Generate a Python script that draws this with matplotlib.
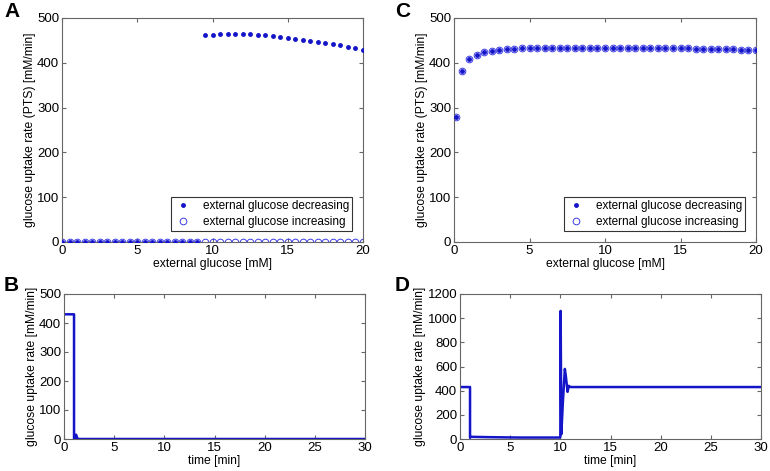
import numpy as np
import matplotlib
matplotlib.use('Agg')
import matplotlib.pyplot as plt

plt.rcParams['font.family'] = ['Liberation Sans', 'DejaVu Sans']

# panel A: bistable branch
glc_a = np.arange(0, 20.01, 0.5)
dec_a = [0]*19 + [461, 463, 464, 464.5, 464.5, 464, 463.5, 462.5, 461, 459.5, 458,
                  456, 454, 452, 449.5, 447, 444.5, 442, 439, 436, 433, 429]
inc_a = [0]*41

# panel C: monostable
glc_c = [0.1] + list(np.arange(0.5, 20.01, 0.5))
dec_c = [280, 382, 408, 418, 424, 427, 429, 430, 431, 432, 432.5, 433, 433, 433.5,
         433.5, 434, 434, 434, 434, 434, 434, 434, 434, 433.5, 433.5, 433, 433, 433,
         432.5, 432.5, 432, 432, 431.5, 431.5, 431, 431, 430.5, 430, 429.5, 429, 428.5]
inc_c = dec_c

# panel B: time course
t_b = [0, 1.0, 1.0, 1.1, 1.2, 1.3, 1.4, 30]
r_b = [430, 430, 0, 2, 15, 5, 0, 0]

# panel D: time course
t_d = [0, 1.0, 1.0, 1.05, 3, 6, 9.98, 10.0, 10.03, 10.1, 10.25, 10.45, 10.55, 10.72, 10.85, 11.0, 30]
r_d = [430, 430, 10, 18, 15, 12, 12, 20, 1060, 40, 300, 580, 520, 390, 440, 430, 430]

blue = '#1414c8'
spine = '#666666'

fig = plt.figure(figsize=(7.7, 4.71), dpi=100)
W, H = 770.0, 471.0

def make_ax(l, r, t, b):
    return fig.add_axes([l/W, 1-b/H, (r-l)/W, (b-t)/H])

def style(ax):
    for s in ax.spines.values():
        s.set_color(spine)
        s.set_linewidth(0.8)
    ax.tick_params(direction='in', top=True, right=True, labelsize=9.5,
                   length=3, color=spine, pad=2)

axA = make_ax(62, 363, 18, 242)
axC = make_ax(454, 756, 18, 242)
axB = make_ax(64, 365, 294, 439)
axD = make_ax(460, 761, 294, 439)

for ax, x, d, i in [(axA, glc_a, dec_a, inc_a), (axC, glc_c, dec_c, inc_c)]:
    ax.plot(x, i, 'o', ms=4.8, mfc='none', mec='#3c3ce6', mew=0.7, ls='none',
            label='external glucose increasing', zorder=2)
    ax.plot(x, d, '.', ms=5, color=blue, ls='none',
            label='external glucose decreasing', zorder=3)
    ax.set_xlim(0, 20)
    ax.set_ylim(0, 500)
    ax.set_xticks([0, 5, 10, 15, 20])
    ax.set_yticks([0, 100, 200, 300, 400, 500])
    ax.set_xlabel('external glucose [mM]', fontsize=8.7, labelpad=1)
    ax.set_ylabel('glucose uptake rate (PTS) [mM/min]', fontsize=8.7, labelpad=1)
    style(ax)
    h, l = ax.get_legend_handles_labels()
    leg = ax.legend(h[::-1], l[::-1], loc='lower right', fontsize=8.5, frameon=True,
                    fancybox=False, borderaxespad=0.9, handletextpad=0.9,
                    labelspacing=0.3, borderpad=0.3, handlelength=1.5)
    leg.get_frame().set_edgecolor('black')
    leg.get_frame().set_linewidth(0.8)

axB.plot(t_b, r_b, color=blue, lw=1.8)
axB.set_ylim(0, 500)
axB.set_yticks([0, 100, 200, 300, 400, 500])
axD.plot(t_d, r_d, color=blue, lw=1.8)
axD.set_ylim(0, 1200)
axD.set_yticks([0, 200, 400, 600, 800, 1000, 1200])
for ax in (axB, axD):
    ax.set_xlim(0, 30)
    ax.set_xticks([0, 5, 10, 15, 20, 25, 30])
    ax.set_xlabel('time [min]', fontsize=8.7, labelpad=1)
    ax.set_ylabel('glucose uptake rate [mM/min]', fontsize=8.7, labelpad=1)
    style(ax)

for lab, x, y in [('A', 4, 2), ('C', 395, 2), ('B', 4, 276), ('D', 395, 276)]:
    fig.text(x/W, 1-y/H, lab, fontsize=15, fontweight='bold', va='top', ha='left')

fig.savefig('out.png', dpi=100)
